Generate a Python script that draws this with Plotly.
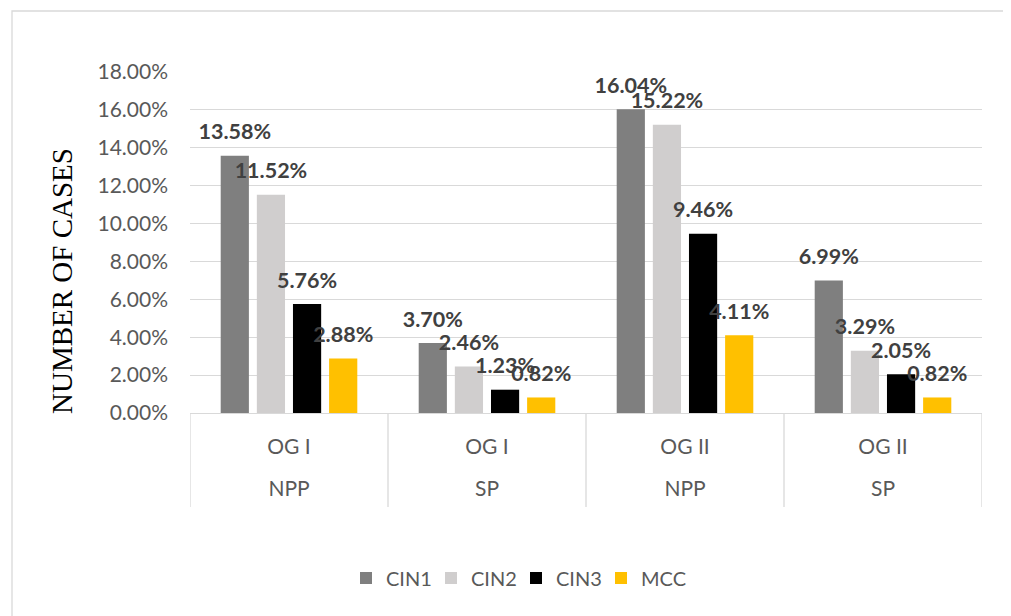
import plotly.graph_objects as go

# ---- data ----
inner_labels = ["OG I", "OG I", "OG II", "OG II"]
outer_labels = ["NPP", "SP", "NPP", "SP"]
series_names = ["CIN1", "CIN2", "CIN3", "MCC"]
cin1 = [0.1358, 0.0370, 0.1604, 0.0699]
cin2 = [0.1152, 0.0246, 0.1522, 0.0329]
cin3 = [0.0576, 0.0123, 0.0946, 0.0205]
mcc = [0.0288, 0.0082, 0.0411, 0.0082]
y_ticks = [0, 0.02, 0.04, 0.06, 0.08, 0.10, 0.12, 0.14, 0.16, 0.18]

series_values = [cin1, cin2, cin3, mcc]
colors = ["#7f7f7f", "#d0cece", "#000000", "#ffc000"]
positions = list(range(len(inner_labels)))

# page body margin offset (8px) compensation
OFF = 8
W, H = 1011 - OFF, 616 - OFF
L, R, T, B = 190 - OFF, 29, 72 - OFF, 203
pw, ph = W - L - R, H - T - B

def px_x(p):
    return (p - OFF - L) / pw

def px_y(p):
    return (H - B - (p - OFF)) / ph

fig = go.Figure()
for name, vals, col in zip(series_names, series_values, colors):
    fig.add_trace(go.Bar(
        x=positions, y=vals, name=name, marker=dict(color=col, line=dict(width=0)),
        offsetgroup=name, hoverinfo="skip",
    ))
for name, vals in zip(series_names, series_values):
    fig.add_trace(go.Scatter(
        x=positions, y=vals, mode="markers+text", offsetgroup=name,
        text=[f"{v*100:.2f}%" for v in vals], textposition="top center",
        textfont=dict(family="Lato", size=21.5, color="#404040", weight="bold"),
        marker=dict(size=16, opacity=0), showlegend=False, hoverinfo="skip",
        cliponaxis=False,
    ))
# helper trace so the second (outer-level) category axis is drawn
fig.add_trace(go.Scatter(x=positions, y=[None] * len(positions), xaxis="x2",
                         showlegend=False, hoverinfo="skip"))

fig.update_layout(
    width=W, height=H,
    margin=dict(l=L, r=R, t=T, b=B),
    paper_bgcolor="white", plot_bgcolor="white",
    barmode="group", bargap=0.27, bargroupgap=0.22,
    scattermode="group", scattergap=0.27,
    font=dict(family="Lato", size=21, color="#595959"),
    legend=dict(orientation="h", x=px_x(516), y=px_y(578), xanchor="center",
                yanchor="middle", font=dict(family="Lato", size=20, color="#595959"),
                itemwidth=30, traceorder="normal", entrywidth=40),
    showlegend=True,
    xaxis=dict(
        range=[-0.5, 3.5], tickvals=positions, ticktext=inner_labels,
        showline=True, linecolor="#d9d9d9", linewidth=1.3, showgrid=False,
        zeroline=False, ticks="", ticklabelstandoff=15,
        tickfont=dict(family="Lato", size=21, color="#595959"),
    ),
    xaxis2=dict(
        range=[-0.5, 3.5], tickvals=positions, ticktext=outer_labels,
        overlaying="x", side="bottom", anchor="y", showline=False, showgrid=False,
        zeroline=False, ticks="", ticklabelstandoff=61,
        tickfont=dict(family="Lato", size=21, color="#595959"),
    ),
    yaxis=dict(
        range=[0, 0.18], tickvals=y_ticks, tickformat=".2%",
        showgrid=True, gridcolor="#d9d9d9", gridwidth=1.3,
        zeroline=False, showline=False, ticklabelstandoff=21,
        tickfont=dict(family="Lato", size=21, color="#595959"),
    ),
)

# category dividers (table-like axis)
for i in range(len(positions) + 1):
    fig.add_shape(type="line", xref="x", yref="paper",
                  x0=i - 0.5, x1=i - 0.5, y0=0, y1=px_y(507),
                  line=dict(color="#d9d9d9", width=1.3))

fig.add_annotation(
    text="NUMBER OF CASES", xref="paper", yref="paper",
    x=px_x(62), y=px_y(281), xanchor="center", yanchor="middle",
    textangle=-90, showarrow=False,
    font=dict(family="Liberation Serif", size=29, color="#000000"),
)
# outer chart border
fig.add_shape(type="rect", xref="paper", yref="paper",
              x0=px_x(12), x1=px_x(1040), y0=px_y(650), y1=px_y(11),
              line=dict(color="#d9d9d9", width=1.3), layer="below")

fig.write_html("out.html")
